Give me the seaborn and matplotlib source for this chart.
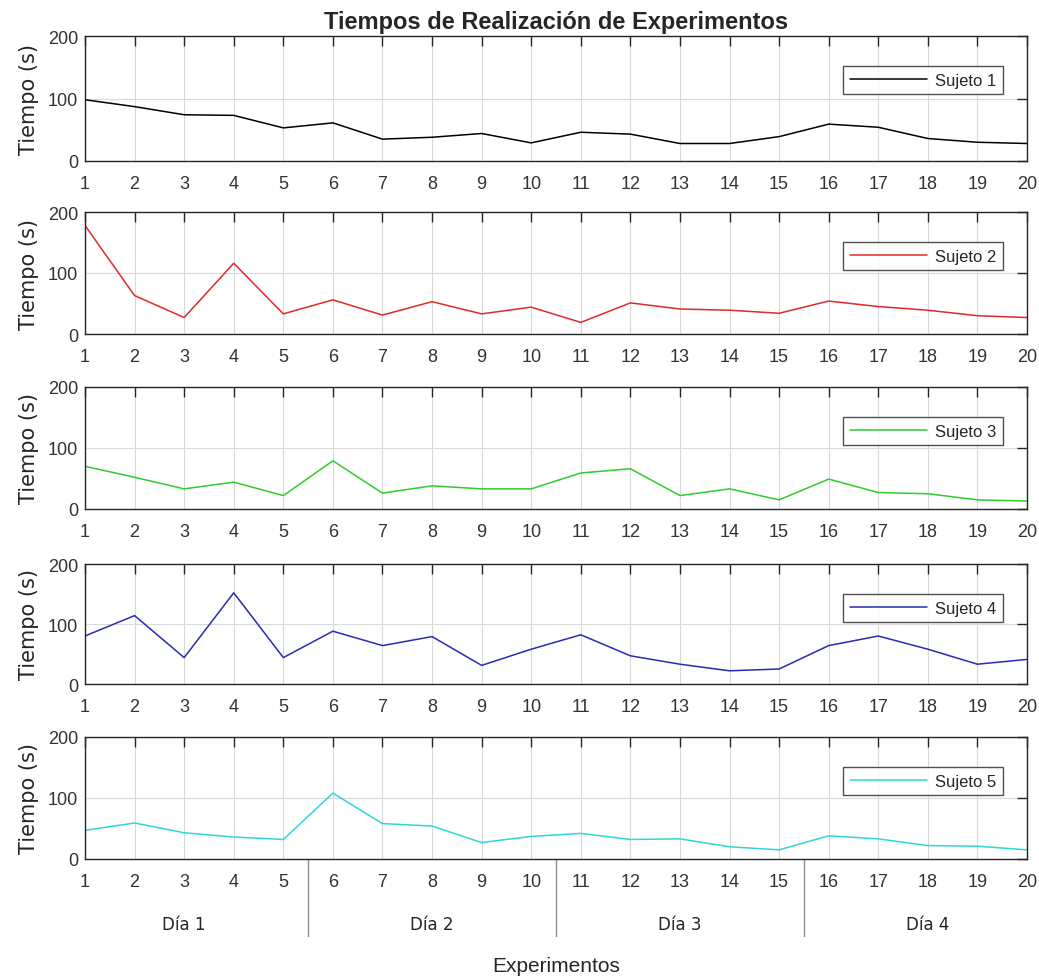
import numpy as np
import pandas as pd
import matplotlib
matplotlib.use("Agg")
import matplotlib.pyplot as plt
import matplotlib.transforms as mtransforms
import seaborn as sns

experimentos = list(range(1, 21))
sujeto1 = [98, 87, 74, 73, 53, 61, 35, 38, 44, 29, 46, 43, 28, 28, 39, 59, 54, 36, 30, 28]
sujeto2 = [178, 63, 27, 116, 33, 56, 31, 53, 33, 44, 19, 51, 41, 39, 34, 54, 45, 39, 30, 27]
sujeto3 = [70, 52, 33, 44, 22, 79, 26, 38, 33, 33, 59, 66, 22, 33, 15, 49, 27, 25, 15, 13]
sujeto4 = [80, 114, 44, 152, 44, 88, 64, 79, 31, 58, 82, 47, 33, 22, 25, 64, 80, 58, 33, 41]
sujeto5 = [47, 59, 43, 36, 32, 108, 58, 54, 27, 37, 42, 32, 33, 20, 15, 38, 33, 22, 21, 15]
sujetos = ["Sujeto 1", "Sujeto 2", "Sujeto 3", "Sujeto 4", "Sujeto 5"]
dias = ["Día 1", "Día 2", "Día 3", "Día 4"]
exp_por_dia = 5
colores = ["#000000", "#e02a2a", "#2ecc2e", "#2a2ab4", "#2ed8d8"]

sns.set_theme(style="white")
plt.rcParams["font.family"] = ["Liberation Sans", "DejaVu Sans"]

fig = plt.figure(figsize=(10.39, 9.79), dpi=100)
W, H = 1039, 979
left_px, right_px = 85, 1027
panels_px = [(37, 162), (213, 335), (388, 510), (565, 685), (738, 860)]

series = [sujeto1, sujeto2, sujeto3, sujeto4, sujeto5]
axes = []
for i, (top, bot) in enumerate(panels_px):
    ax = fig.add_axes([left_px / W, 1 - bot / H, (right_px - left_px) / W, (bot - top) / H])
    axes.append(ax)
    df = pd.DataFrame({"Experimento": experimentos, "Tiempo": series[i]})
    sns.lineplot(data=df, x="Experimento", y="Tiempo", ax=ax, color=colores[i],
                 linewidth=1.1, label=sujetos[i])
    ax.set_xlim(1, 20)
    ax.set_ylim(0, 200)
    ax.set_xticks(experimentos)
    ax.set_yticks([0, 100, 200])
    ax.tick_params(axis="both", which="both", direction="in", length=7, width=1,
                   color="#262626", top=True, right=True, labelsize=13,
                   labelcolor="#333333")
    ax.tick_params(axis="x", pad=10)
    ax.tick_params(axis="y", pad=5)
    ax.grid(True, color="#d9d9d9", linewidth=0.8)
    ax.set_axisbelow(True)
    for s in ax.spines.values():
        s.set_color("#262626")
        s.set_linewidth(1.0)
        s.set_visible(True)
    ax.set_xlabel("")
    ax.set_ylabel("Tiempo (s)", fontsize=15, family="DejaVu Sans", color="#262626", labelpad=6)
    aw = right_px - left_px
    ah = bot - top
    leg = ax.legend(loc="upper right", bbox_to_anchor=(1 - 24 / aw, 1 - 30 / ah),
                    borderaxespad=0, fancybox=False, frameon=True, fontsize=12,
                    handlelength=4.6, handletextpad=0.5, borderpad=0.4)
    leg.get_frame().set_edgecolor("#262626")
    leg.get_frame().set_linewidth(1.0)
    for t in leg.get_texts():
        t.set_color("#262626")

axes[0].set_title("Tiempos de Realización de Experimentos", fontsize=17,
                  fontweight="bold", color="#262626", pad=6)

ax5 = axes[-1]
trans = mtransforms.blended_transform_factory(ax5.transData, ax5.transAxes)
ah5 = panels_px[-1][1] - panels_px[-1][0]
for k in range(1, len(dias)):
    xb = k * exp_por_dia + 0.5
    ax5.plot([xb, xb], [0, -77 / ah5], transform=trans, color="#8c8c8c",
             linewidth=1.0, clip_on=False)
for k, d in enumerate(dias):
    xc = k * exp_por_dia + (exp_por_dia + 1) / 2
    ax5.text(xc, -65 / ah5, d, transform=trans, ha="center", va="center",
             fontsize=12, family="DejaVu Sans", color="#262626")
ax5.text(0.5, -107 / ah5, "Experimentos", transform=ax5.transAxes, ha="center",
         va="center", fontsize=15, color="#262626")

fig.savefig("out.png", dpi=100)
